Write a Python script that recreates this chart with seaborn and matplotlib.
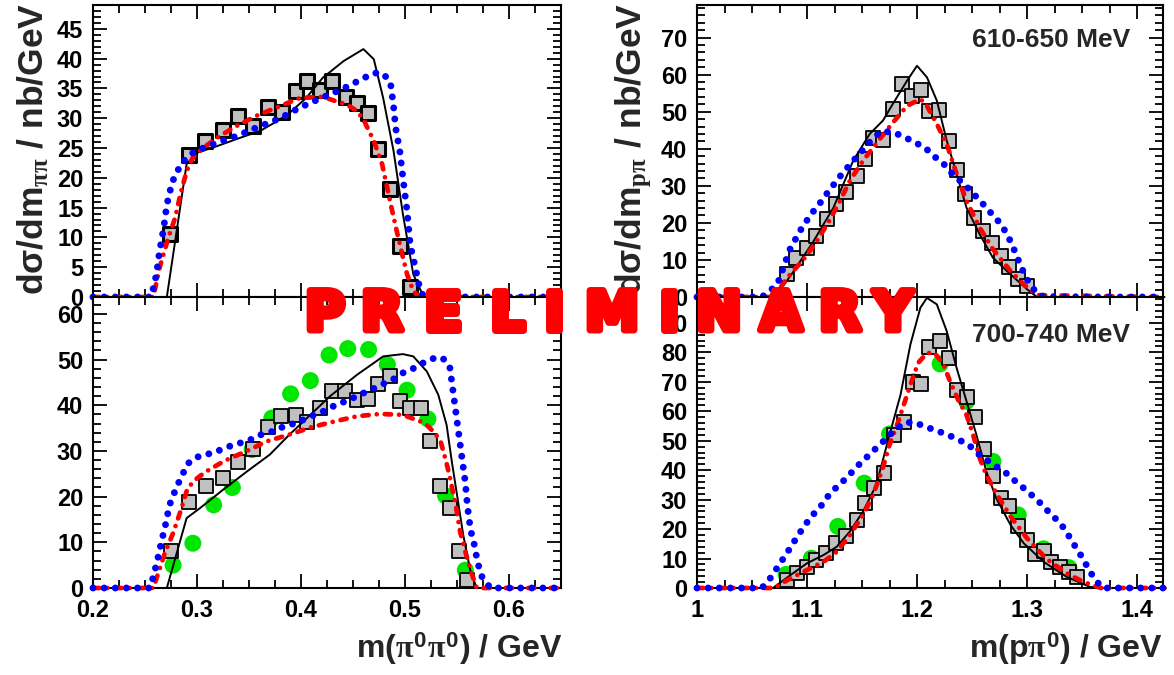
import numpy as np
import matplotlib
matplotlib.use("Agg")
import matplotlib.pyplot as plt
import matplotlib.patheffects as pe
from matplotlib.ticker import MultipleLocator, FuncFormatter
import seaborn as sns

# ---- top left: m(pi0 pi0), 610-650 MeV ----
tl_sq_x = [0.274, 0.292, 0.308, 0.325, 0.339, 0.354, 0.368, 0.382, 0.395, 0.406, 0.418, 0.430,
           0.443, 0.454, 0.464, 0.474, 0.486, 0.495, 0.505]
tl_sq_y = [10.5, 23.9, 26.2, 28.1, 30.4, 28.7, 31.9, 31.0, 34.6, 36.2, 34.8, 36.2,
           33.6, 32.6, 30.8, 24.9, 18.1, 8.6, 1.7]
tl_black_x = [0.20, 0.271, 0.290, 0.300, 0.319, 0.338, 0.361, 0.377, 0.389, 0.405, 0.421, 0.441,
              0.460, 0.470, 0.479, 0.489, 0.498, 0.508, 0.518, 0.65]
tl_black_y = [0, 0, 22.3, 24.2, 25.3, 26.5, 27.9, 29.5, 30.9, 33.4, 36.8, 39.6,
              41.6, 39.9, 33.4, 24.5, 13.9, 3.8, 0, 0]
tl_blue_x = [0.20, 0.256, 0.261, 0.264, 0.268, 0.271, 0.276, 0.281, 0.287, 0.296, 0.306, 0.319,
             0.338, 0.357, 0.380, 0.399, 0.421, 0.441, 0.460, 0.470, 0.479, 0.486, 0.489, 0.491,
             0.495, 0.498, 0.502, 0.505, 0.510, 0.514, 0.518, 0.65]
tl_blue_y = [0, 0, 3.8, 7.7, 11.6, 15.5, 19.2, 21.1, 22.8, 24.2, 25.0, 25.9,
             27.0, 28.4, 30.0, 31.8, 33.5, 35.0, 36.7, 37.6, 37.5, 36.0, 32.0, 28.4,
             24.5, 20.0, 14.4, 8.8, 4.9, 1.6, 0, 0]
tl_red_x = [0.20, 0.258, 0.264, 0.272, 0.279, 0.284, 0.290, 0.296, 0.306, 0.319, 0.338, 0.357,
            0.378, 0.399, 0.421, 0.431, 0.444, 0.454, 0.460, 0.470, 0.478, 0.487, 0.492, 0.497,
            0.502, 0.508, 0.514, 0.65]
tl_red_y = [0, 0, 4.9, 9.7, 13.3, 17.2, 21.1, 23.4, 25.0, 26.7, 28.7, 30.4,
            31.9, 33.4, 33.6, 33.0, 32.3, 31.2, 29.8, 26.2, 22.3, 15.0, 11.1, 7.4,
            3.8, 1.0, 0, 0]

# ---- top right: m(p pi0), 610-650 MeV ----
tr_sq_x = [1.082, 1.090, 1.100, 1.108, 1.118, 1.126, 1.135, 1.145, 1.153, 1.160, 1.169, 1.178,
           1.186, 1.195, 1.204, 1.211, 1.220, 1.229, 1.236, 1.244, 1.252, 1.260, 1.268, 1.276,
           1.284, 1.292, 1.300]
tr_sq_y = [6.1, 10.4, 13.2, 16.5, 21.0, 25.2, 28.4, 32.7, 37.2, 42.9, 42.4, 50.7,
           57.5, 54.3, 55.9, 50.3, 50.5, 42.2, 34.2, 27.9, 21.4, 17.8, 14.6, 11.1,
           8.1, 4.9, 3.0]
tr_black_x = [1.0, 1.068, 1.075, 1.088, 1.106, 1.124, 1.142, 1.157, 1.169, 1.178, 1.191, 1.200,
              1.209, 1.218, 1.227, 1.236, 1.245, 1.257, 1.269, 1.285, 1.300, 1.309, 1.425]
tr_black_y = [0, 0, 1.6, 7.0, 15.1, 24.1, 36.8, 44.0, 47.6, 52.1, 58.4, 62.4,
              59.3, 53.0, 42.2, 33.2, 24.1, 16.9, 10.6, 6.1, 2.1, 0, 0]
tr_blue_x = [1.0, 1.059, 1.066, 1.073, 1.077, 1.084, 1.089, 1.094, 1.100, 1.106, 1.113, 1.119,
             1.125, 1.132, 1.139, 1.146, 1.153, 1.160, 1.168, 1.178, 1.189, 1.198, 1.207, 1.215,
             1.224, 1.231, 1.239, 1.246, 1.253, 1.260, 1.268, 1.275, 1.281, 1.286, 1.290, 1.294,
             1.298, 1.303, 1.310, 1.316, 1.425]
tr_blue_y = [0, 0, 1.6, 3.4, 6.6, 12.6, 15.3, 18.0, 20.7, 23.2, 25.8, 28.3,
             30.6, 33.3, 35.7, 38.1, 40.4, 42.9, 44.7, 44.5, 43.1, 41.7, 40.4, 38.1,
             36.0, 33.6, 31.4, 29.5, 27.3, 25.1, 22.4, 20.1, 17.4, 14.4, 11.5, 8.6,
             5.9, 3.2, 0.7, 0, 0]
tr_red_x = [1.0, 1.070, 1.082, 1.097, 1.109, 1.121, 1.130, 1.139, 1.151, 1.165, 1.177, 1.191,
            1.203, 1.208, 1.218, 1.227, 1.236, 1.245, 1.257, 1.269, 1.285, 1.297, 1.309, 1.425]
tr_red_y = [0, 0, 5.2, 10.2, 15.1, 21.0, 25.9, 31.4, 36.8, 42.2, 46.7, 51.6,
            53.4, 52.1, 46.7, 41.3, 33.2, 25.9, 18.7, 12.9, 7.0, 3.4, 0.5, 0]

# ---- bottom left: m(pi0 pi0), 700-740 MeV ----
bl_sq_x = [0.275, 0.292, 0.309, 0.325, 0.339, 0.354, 0.368, 0.381, 0.395, 0.406, 0.418, 0.430,
           0.442, 0.454, 0.464, 0.474, 0.486, 0.495, 0.505, 0.515, 0.524, 0.534, 0.543, 0.552, 0.560]
bl_sq_y = [8.1, 18.8, 22.4, 24.0, 27.6, 30.4, 35.2, 37.6, 37.8, 36.3, 39.5, 43.2,
           43.2, 41.2, 41.4, 44.7, 46.3, 41.0, 39.3, 39.5, 32.1, 22.4, 17.5, 8.1, 1.8]
bl_gr_x = [0.277, 0.296, 0.316, 0.334, 0.353, 0.372, 0.390, 0.409, 0.427, 0.445, 0.465, 0.483,
           0.502, 0.522, 0.539, 0.558]
bl_gr_y = [5.0, 9.8, 18.2, 22.0, 30.3, 37.2, 42.5, 45.4, 51.0, 52.4, 52.2, 48.9,
           43.3, 37.0, 20.2, 3.9]
bl_black_x = [0.20, 0.271, 0.290, 0.303, 0.325, 0.348, 0.370, 0.389, 0.409, 0.428, 0.454, 0.479,
              0.498, 0.508, 0.521, 0.532, 0.540, 0.545, 0.550, 0.556, 0.563, 0.569, 0.65]
bl_black_y = [0, 0, 15.3, 17.5, 21.5, 25.5, 29.2, 33.6, 37.9, 42.0, 46.7, 50.7,
              51.2, 50.7, 47.4, 42.3, 35.7, 27.7, 20.4, 11.6, 3.6, 0, 0]
bl_blue_x = [0.20, 0.255, 0.261, 0.266, 0.271, 0.273, 0.277, 0.281, 0.286, 0.291, 0.299, 0.309,
             0.320, 0.331, 0.341, 0.353, 0.362, 0.373, 0.384, 0.395, 0.405, 0.415, 0.425, 0.435,
             0.445, 0.456, 0.466, 0.477, 0.487, 0.496, 0.506, 0.516, 0.526, 0.536, 0.543, 0.546,
             0.549, 0.552, 0.555, 0.558, 0.560, 0.563, 0.566, 0.570, 0.574, 0.582, 0.65]
bl_blue_y = [0, 0, 5.2, 10.3, 15.1, 17.8, 20.2, 22.4, 24.8, 27.2, 28.6, 29.2,
             30.0, 31.0, 31.7, 32.6, 33.6, 34.3, 35.4, 36.1, 37.1, 38.1, 39.0, 40.3,
             41.0, 42.3, 43.2, 44.5, 45.4, 46.9, 47.8, 49.1, 50.2, 50.4, 48.5, 43.4,
             38.3, 33.2, 28.1, 23.1, 18.0, 12.7, 10.2, 5.4, 2.5, 0, 0]
bl_red_x = [0.20, 0.258, 0.269, 0.277, 0.284, 0.291, 0.300, 0.308, 0.327, 0.348, 0.367, 0.389,
            0.410, 0.433, 0.454, 0.476, 0.498, 0.519, 0.527, 0.534, 0.540, 0.544, 0.549, 0.553,
            0.558, 0.563, 0.569, 0.65]
bl_red_y = [0, 0, 7.6, 12.0, 16.7, 21.9, 24.0, 25.4, 27.9, 30.0, 32.1, 33.6,
            35.2, 36.5, 37.6, 38.1, 37.9, 36.1, 34.3, 32.3, 27.3, 23.3, 17.8, 12.3,
            8.0, 3.9, 0, 0]

# ---- bottom right: m(p pi0), 700-740 MeV ----
br_sq_x = [1.082, 1.091, 1.100, 1.108, 1.117, 1.126, 1.135, 1.145, 1.153, 1.161, 1.170, 1.179,
           1.188, 1.196, 1.204, 1.211, 1.221, 1.229, 1.236, 1.245, 1.253, 1.261, 1.269, 1.276,
           1.284, 1.292, 1.300, 1.307, 1.315, 1.322, 1.330, 1.338, 1.345]
br_sq_y = [2.7, 5.0, 7.2, 9.5, 11.8, 15.2, 17.8, 23.1, 28.8, 34.1, 39.0, 52.0,
           56.4, 70.0, 69.3, 81.7, 83.8, 78.1, 67.3, 64.7, 57.9, 47.2, 38.1, 30.7,
           28.0, 21.2, 16.3, 11.5, 12.6, 8.9, 7.2, 5.5, 3.8]
br_gr_x = [1.081, 1.104, 1.128, 1.152, 1.175, 1.197, 1.221, 1.245, 1.269, 1.292, 1.315, 1.338]
br_gr_y = [4.6, 10.1, 20.9, 35.6, 52.3, 70.0, 76.1, 63.4, 43.0, 24.8, 13.3, 6.9]
br_black_x = [1.0, 1.069, 1.085, 1.100, 1.115, 1.127, 1.139, 1.151, 1.163, 1.175, 1.185, 1.194,
              1.203, 1.209, 1.218, 1.227, 1.236, 1.245, 1.254, 1.263, 1.272, 1.285, 1.297, 1.315,
              1.336, 1.357, 1.367, 1.425]
br_black_y = [0, 0, 4.4, 8.4, 11.2, 14.0, 19.2, 26.0, 35.0, 52.0, 65.6, 82.7,
              95.1, 98.5, 96.3, 87.2, 74.7, 63.4, 52.0, 39.6, 30.5, 21.4, 15.2, 8.9,
              3.8, 0.4, 0, 0]
br_blue_x = [1.0, 1.059, 1.066, 1.074, 1.082, 1.087, 1.093, 1.099, 1.106, 1.113, 1.119, 1.126,
             1.134, 1.141, 1.148, 1.156, 1.164, 1.172, 1.179, 1.189, 1.198, 1.208, 1.218, 1.228,
             1.238, 1.247, 1.255, 1.263, 1.272, 1.281, 1.289, 1.297, 1.305, 1.313, 1.320, 1.328,
             1.335, 1.340, 1.346, 1.351, 1.356, 1.362, 1.369, 1.425]
br_blue_y = [0, 0, 3.0, 7.5, 12.0, 15.0, 18.5, 21.8, 25.1, 28.0, 31.1, 33.9,
             36.7, 39.4, 42.2, 45.0, 47.9, 50.7, 53.4, 56.2, 56.2, 54.7, 53.4, 52.0,
             50.3, 48.6, 45.8, 43.5, 41.3, 39.0, 36.4, 33.9, 31.3, 28.5, 25.7, 22.8,
             19.7, 16.3, 12.9, 9.8, 6.4, 2.7, 0, 0]
br_red_x = [1.0, 1.070, 1.085, 1.100, 1.115, 1.127, 1.139, 1.151, 1.160, 1.168, 1.175, 1.183,
            1.188, 1.194, 1.201, 1.209, 1.216, 1.224, 1.230, 1.238, 1.245, 1.251, 1.257, 1.263,
            1.272, 1.285, 1.300, 1.317, 1.336, 1.351, 1.367, 1.425]
br_red_y = [0, 0, 3.3, 6.1, 8.9, 12.3, 18.0, 24.8, 31.6, 39.6, 48.6, 56.6,
            62.2, 69.0, 76.4, 79.8, 79.8, 75.9, 70.2, 63.4, 58.8, 52.0, 44.1, 38.4,
            32.2, 24.3, 16.9, 10.1, 5.0, 2.1, 0, 0]

sns.set_theme(style="ticks")
plt.rcParams['font.family'] = ['Liberation Sans', 'DejaVu Sans']
plt.rcParams['font.weight'] = 'bold'
plt.rcParams['mathtext.fontset'] = 'custom'
plt.rcParams['mathtext.rm'] = 'Liberation Sans:bold'
plt.rcParams['mathtext.bf'] = 'Liberation Sans:bold'
plt.rcParams['mathtext.it'] = 'Liberation Serif'
plt.rcParams['lines.scale_dashes'] = False   # dash lengths below are in points

GREY = '#c0c0c0'
GREEN = '#00e600'
BLUE = '#0000ff'
RED = '#ff0000'

fig = plt.figure(figsize=(11.74, 6.75), dpi=100)
W, H = 1174.0, 675.0


def box(x0, x1, y0, y1):
    return [x0 / W, 1 - y1 / H, (x1 - x0) / W, (y1 - y0) / H]


ax_tl = fig.add_axes(box(93, 561, 5, 297))
ax_tr = fig.add_axes(box(697, 1163, 5, 297))
ax_bl = fig.add_axes(box(93, 561, 297, 588))
ax_br = fig.add_axes(box(697, 1163, 297, 588))


def draw_panel(ax, sq_x, sq_y, bx, by, ux, uy, rx, ry, gx=None, gy=None, sq_edge=1.3):
    if gx is not None:
        sns.scatterplot(x=gx, y=gy, ax=ax, marker='o', s=150, color=GREEN,
                        edgecolor='none', linewidth=0, zorder=2)
    sns.scatterplot(x=sq_x, y=sq_y, ax=ax, marker='s', s=100, color=GREY,
                    edgecolor='black', linewidth=sq_edge, zorder=3)
    ax.plot(bx, by, color='black', linewidth=1.4, zorder=4, clip_on=False)
    ax.plot(rx, ry, color=RED, linewidth=3.4, zorder=5, clip_on=False,
            linestyle=(0, (4.5, 5.8, 0.01, 5.8)), dash_capstyle='round')
    ax.plot(ux, uy, color=BLUE, linewidth=5.0, zorder=6, clip_on=False,
            linestyle=(0, (0.01, 8.0)), dash_capstyle='round')


def style_axes(ax, xlim, ylim, xmaj, ymaj, ymin, labelbottom):
    ax.set_xlim(*xlim)
    ax.set_ylim(*ylim)
    ax.xaxis.set_major_locator(MultipleLocator(xmaj))
    ax.xaxis.set_minor_locator(MultipleLocator(xmaj / 4))
    ax.yaxis.set_major_locator(MultipleLocator(ymaj))
    ax.yaxis.set_minor_locator(MultipleLocator(ymin))
    ax.xaxis.set_major_formatter(FuncFormatter(lambda v, p: '%g' % round(v, 3)))
    ax.yaxis.set_major_formatter(FuncFormatter(lambda v, p: '%g' % round(v, 3)))
    ax.tick_params(which='both', direction='in', top=True, right=True, width=1.3,
                   labelsize=17, colors='black')
    ax.tick_params(which='major', length=10)
    ax.tick_params(which='minor', length=5.5)
    ax.tick_params(axis='y', pad=7)
    ax.tick_params(axis='x', pad=8, labelbottom=labelbottom)
    for s in ax.spines.values():
        s.set_linewidth(1.5)
        s.set_color('black')
    ax.set_xlabel('')
    ax.set_ylabel('')
    for lab in ax.get_xticklabels() + ax.get_yticklabels():
        lab.set_fontweight('bold')


draw_panel(ax_tl, tl_sq_x, tl_sq_y, tl_black_x, tl_black_y, tl_blue_x, tl_blue_y,
           tl_red_x, tl_red_y, sq_edge=2.2)
draw_panel(ax_tr, tr_sq_x, tr_sq_y, tr_black_x, tr_black_y, tr_blue_x, tr_blue_y,
           tr_red_x, tr_red_y)
draw_panel(ax_bl, bl_sq_x, bl_sq_y, bl_black_x, bl_black_y, bl_blue_x, bl_blue_y,
           bl_red_x, bl_red_y, bl_gr_x, bl_gr_y)
draw_panel(ax_br, br_sq_x, br_sq_y, br_black_x, br_black_y, br_blue_x, br_blue_y,
           br_red_x, br_red_y, br_gr_x, br_gr_y)

style_axes(ax_tl, (0.2, 0.65), (0, 49), 0.1, 5, 1, False)
style_axes(ax_tr, (1.0, 1.4236), (0, 78.8), 0.1, 10, 2, False)
style_axes(ax_bl, (0.2, 0.65), (0, 63.7), 0.1, 10, 2, True)
style_axes(ax_br, (1.0, 1.4236), (0, 98.8), 0.1, 10, 2, True)

# axis titles (ROOT style, right/top aligned)
fig.text(44 / W, 1 - 3 / H, 'dσ/dm$_{\\pi\\pi}$ / nb/GeV', rotation=90, rotation_mode='anchor',
         ha='right', va='baseline', fontsize=25.5, fontweight='bold')
fig.text(641 / W, 1 - 3 / H, 'dσ/dm$_{p\\pi}$ / nb/GeV', rotation=90, rotation_mode='anchor',
         ha='right', va='baseline', fontsize=25.5, fontweight='bold')
fig.text(562 / W, 1 - 658 / H, 'm($\\pi^{0}\\pi^{0}$) / GeV', ha='right', va='baseline',
         fontsize=23, fontweight='bold')
fig.text(1163 / W, 1 - 658 / H, 'm(p$\\pi^{0}$) / GeV', ha='right', va='baseline',
         fontsize=23, fontweight='bold')

ax_tr.text(0.93, 0.855, '610-650 MeV', transform=ax_tr.transAxes, ha='right', va='baseline',
           fontsize=19, fontweight='bold')
ax_br.text(0.93, 0.845, '700-740 MeV', transform=ax_br.transAxes, ha='right', va='baseline',
           fontsize=19, fontweight='bold')

# PRELIMINARY watermark, one letter at a time to get the wide lettering
prelim_letters = list('PRELIMINARY')
prelim_centres = [325, 382, 443, 507, 554, 612, 669, 719, 781, 840, 893]
for ch, cx in zip(prelim_letters, prelim_centres):
    fig.text(cx / W, 1 - 330 / H, ch, ha='center', va='baseline', fontsize=39,
             fontweight='bold', family='DejaVu Sans', color=RED, zorder=20,
             path_effects=[pe.withStroke(linewidth=5, foreground=RED)])

fig.savefig('out.png', dpi=100)
